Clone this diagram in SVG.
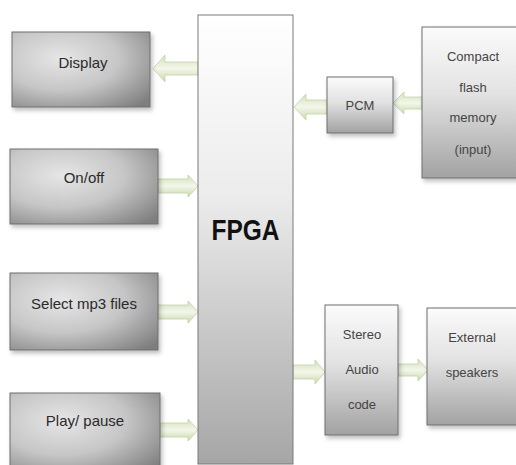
<svg xmlns="http://www.w3.org/2000/svg" width="516" height="465" viewBox="0 0 516 465">
<defs>
<radialGradient id="gL" cx="0.35" cy="0.35" r="0.85">
<stop offset="0" stop-color="#e6e6e6"/>
<stop offset="0.5" stop-color="#c6c6c6"/>
<stop offset="1" stop-color="#7e7e7e"/>
</radialGradient>
<linearGradient id="gV" x1="0" y1="0" x2="0" y2="1">
<stop offset="0" stop-color="#fbfbfb"/>
<stop offset="0.45" stop-color="#e2e2e2"/>
<stop offset="1" stop-color="#a2a2a2"/>
</linearGradient>
<linearGradient id="gF" x1="0" y1="0" x2="0" y2="1">
<stop offset="0" stop-color="#ffffff"/>
<stop offset="0.4" stop-color="#ececec"/>
<stop offset="1" stop-color="#a6a6a6"/>
</linearGradient>
<linearGradient id="gA" x1="0" y1="0" x2="0" y2="1">
<stop offset="0" stop-color="#d3e0bb"/>
<stop offset="0.5" stop-color="#f3f7ea"/>
<stop offset="1" stop-color="#c9d9ab"/>
</linearGradient>
<filter id="sh" x="-10%" y="-10%" width="130%" height="130%">
<feDropShadow dx="2" dy="3" stdDeviation="2" flood-color="#000" flood-opacity="0.25"/>
</filter>
</defs>
<style>
.box{stroke:#6e6e6e;stroke-width:1;filter:url(#sh)}
.l{fill:url(#gL)}
.v{fill:url(#gV)}
.t{font-family:"Liberation Sans Narrow","Liberation Sans",Arial,sans-serif;font-size:15px;fill:#2a2a2a;text-anchor:middle}
.s{font-size:13px;fill:#444}
.arr{fill:url(#gA);stroke:#c2d3a3;stroke-width:0.8}
</style>
<rect width="516" height="465" fill="#ffffff"/>

<g id="connectors">
<polygon class="arr" points="198,62 165,62 165,55 153,68.5 165,82 165,75 198,75"/>
<polygon class="arr" points="158,179 188,179 188,175 198,186 188,197 188,193 158,193"/>
<polygon class="arr" points="158,305 188,305 188,301 198,312 188,323 188,319 158,319"/>
<polygon class="arr" points="160,423 188,423 188,419 198,430 188,441 188,437 160,437"/>
<polygon class="arr" points="327,100 306,100 306,94 294,107 306,120 306,114 327,114"/>
<polygon class="arr" points="422,97 404,97 404,92 393,103 404,114 404,109 422,109"/>
<polygon class="arr" points="293,365 315,365 315,360 325,372 315,384 315,379 293,379"/>
<polygon class="arr" points="398,364 418,364 418,359 428,370 418,381 418,376 398,376"/>
</g>

<g id="display">
<rect class="box l" x="12" y="32" width="138" height="75"/>
<text class="t" x="83" y="68">Display</text>
</g>
<g id="onoff">
<rect class="box l" x="10" y="149" width="148" height="75"/>
<text class="t" x="84" y="183">On/off</text>
</g>
<g id="select">
<rect class="box l" x="10" y="273" width="148" height="77"/>
<text class="t" x="84" y="309">Select mp3 files</text>
</g>
<g id="play">
<rect class="box l" x="10" y="393" width="150" height="80"/>
<text class="t" x="85" y="426">Play/ pause</text>
</g>
<g id="fpga">
<rect x="198" y="15" width="95" height="449" fill="url(#gF)" stroke="#7a7a7a" stroke-width="1"/>
<text x="245.5" y="240" font-family="'Liberation Sans Narrow','Liberation Sans',Arial,sans-serif" font-size="30" font-weight="bold" fill="#111" text-anchor="middle" textLength="68" lengthAdjust="spacingAndGlyphs">FPGA</text>
</g>
<g id="pcm">
<rect class="box v" x="327" y="77" width="66" height="56"/>
<text class="t s" x="360" y="110">PCM</text>
</g>
<g id="flash">
<rect class="box v" x="422" y="27" width="98" height="151"/>
<text class="t s" x="473" y="61">Compact</text>
<text class="t s" x="473" y="92">flash</text>
<text class="t s" x="473" y="122">memory</text>
<text class="t s" x="473" y="154">(input)</text>
</g>
<g id="stereo">
<rect class="box v" x="325" y="305" width="73" height="130"/>
<text class="t s" x="362" y="339">Stereo</text>
<text class="t s" x="362" y="374">Audio</text>
<text class="t s" x="362" y="409">code</text>
</g>
<g id="speakers">
<rect class="box v" x="427" y="308" width="93" height="117"/>
<text class="t s" x="472" y="342">External</text>
<text class="t s" x="472" y="377">speakers</text>
</g>
</svg>
